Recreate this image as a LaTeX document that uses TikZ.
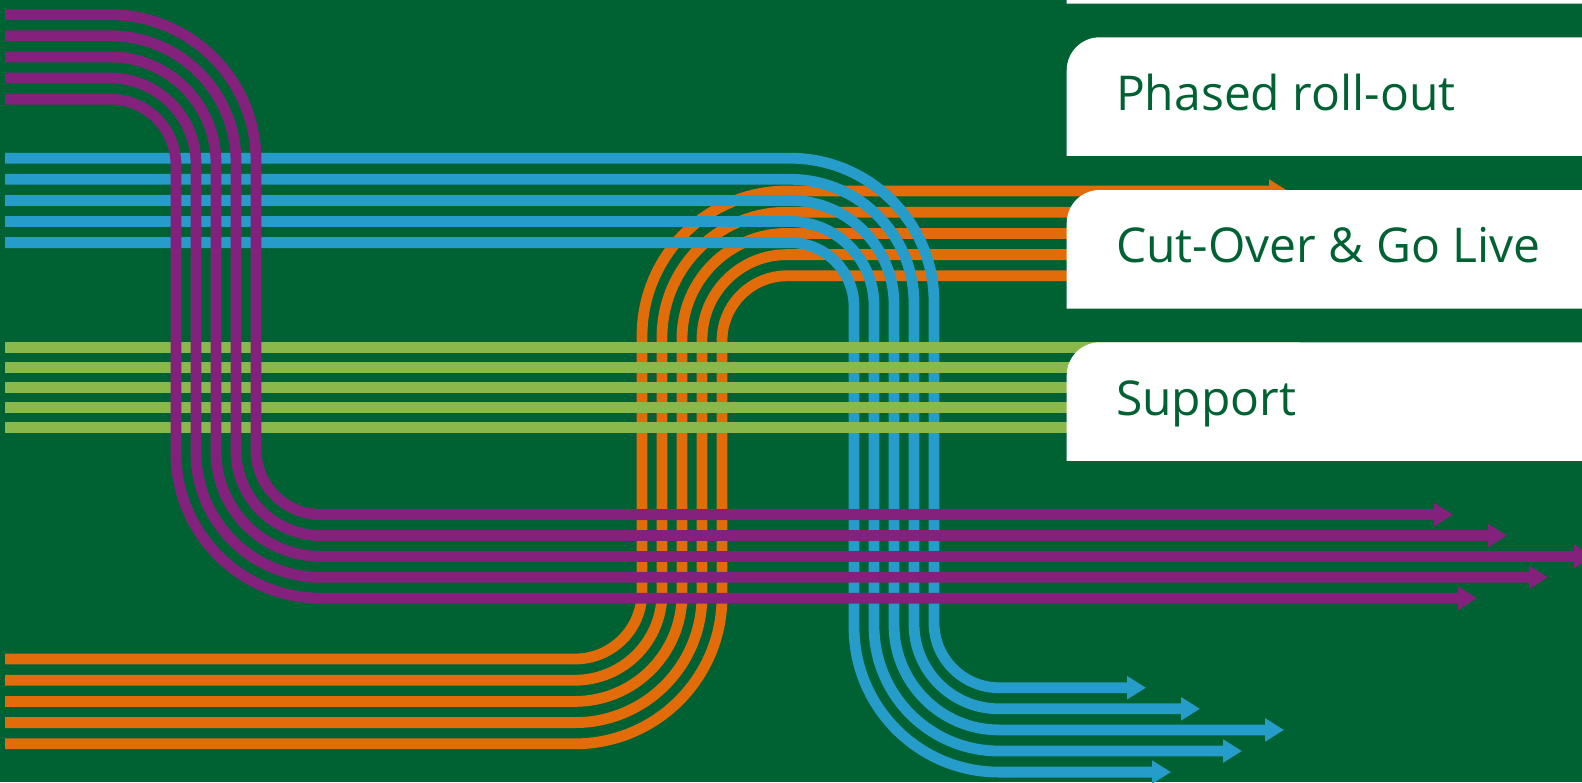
\documentclass[tikz,border=0pt]{standalone}
\usepackage{fontspec}
\setmainfont{Open Sans}
\usetikzlibrary{arrows.meta}
\definecolor{bggreen}{RGB}{0,98,51}
\definecolor{lanepurple}{RGB}{132,33,124}
\definecolor{laneblue}{RGB}{38,156,202}
\definecolor{laneorange}{RGB}{227,108,10}
\definecolor{lanegreen}{RGB}{139,184,74}

\begin{document}
\begin{tikzpicture}[x=0.5pt,y=-0.5pt,
  lane/.style={line width=5.4pt},
  lanearrow/.style={lane,-{Triangle[length=9.4pt,width=11pt]}},
  phasetext/.style={anchor=base west,text=bggreen,font=\fontsize{24pt}{29pt}\selectfont}]
% background
\useasboundingbox (0,0) rectangle (1582,782);
\fill[bggreen] (0,0) rectangle (1582,782);
\clip (0,0) rectangle (1582,782);

% orange lanes
\foreach \i in {0,...,4} {
  \pgfmathsetmacro\yl{659+21.2*\i}
  \pgfmathsetmacro\xv{642+20*\i}
  \pgfmathsetmacro\ra{67+20*\i}
  \pgfmathsetmacro\yr{191+21.2*\i}
  \pgfmathsetmacro\rb{145-20*\i}
  \draw[lanearrow,laneorange] (5,\yl) -- (575,\yl)
    arc[start angle=90,end angle=0,radius=\ra] -- (\xv,\yr+\rb)
    arc[start angle=180,end angle=270,radius=\rb] -- (1288,\yr);
}

% blue lanes
\foreach \i/\tip in {0/1146,1/1200,2/1284,3/1242,4/1171} {
  \pgfmathsetmacro\yt{158.2+21.1*\i}
  \pgfmathsetmacro\xv{934-20*\i}
  \pgfmathsetmacro\ra{144-20*\i}
  \pgfmathsetmacro\yb{687.7+21.1*\i}
  \pgfmathsetmacro\rb{65+20*\i}
  \draw[lanearrow,laneblue] (5,\yt) -- (790,\yt)
    arc[start angle=-90,end angle=0,radius=\ra] -- (\xv,\yb-\rb)
    arc[start angle=180,end angle=90,radius=\rb] -- (\tip,\yb);
}

% green lanes
\foreach \i in {0,...,4}
  \draw[lane,lanegreen] (5,347.7+20*\i) -- (1300,347.7+20*\i);

% purple lanes
\foreach \i/\tip in {0/1453,1/1507,2/1593,3/1548,4/1477} {
  \pgfmathsetmacro\yt{14.7+21.1*\i}
  \pgfmathsetmacro\xv{256-20*\i}
  \pgfmathsetmacro\ra{146-20*\i}
  \pgfmathsetmacro\yb{514.6+20.9*\i}
  \pgfmathsetmacro\rb{65+20*\i}
  \draw[lanearrow,lanepurple] (5,\yt) -- (110,\yt)
    arc[start angle=-90,end angle=0,radius=\ra] -- (\xv,\yb-\rb)
    arc[start angle=180,end angle=90,radius=\rb] -- (\tip,\yb);
}

% phase boxes
\foreach \top in {-115,37.3,190,342.3}
  \fill[white] (1066.7,\top+118.5) -- (1066.7,\top+33)
    arc[start angle=180,end angle=270,radius=33] -- (1600,\top) -- (1600,\top+118.5) -- cycle;

\node[phasetext] (rollout) at (1109,110) {Phased roll-out};
\node[phasetext] (golive) at (1109,262.7) {Cut-Over \& Go Live};
\node[phasetext] (support) at (1109,415) {Support};
\end{tikzpicture}
\end{document}
